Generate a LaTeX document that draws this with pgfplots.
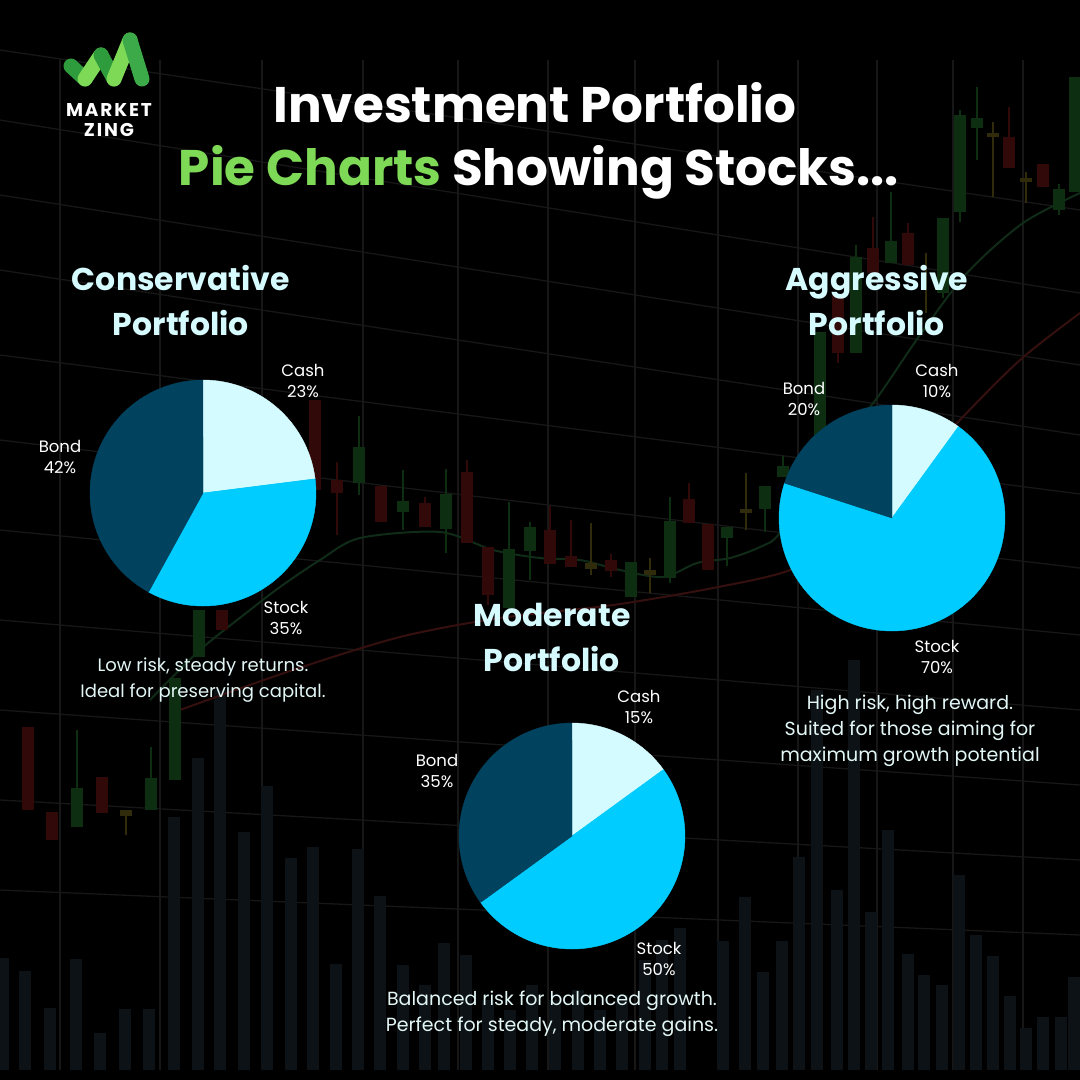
\documentclass[border=0pt]{standalone}
\usepackage{fontspec}
\setmainfont{Poppins}
\usepackage{pgfplots}
\pgfplotsset{compat=1.18}
\definecolor{cashc}{HTML}{D4FBFF}
\definecolor{stockc}{HTML}{00CCFF}
\definecolor{bondc}{HTML}{01425F}
\definecolor{ttl}{HTML}{D6FBFF}
\definecolor{grn}{HTML}{7ED957}
\definecolor{dgrn}{HTML}{2E9B3C}
\definecolor{mgrn}{HTML}{3CAA48}
\definecolor{gridc}{HTML}{171717}
\definecolor{volc}{HTML}{0C1215}
\definecolor{cg}{HTML}{0E2E12}
\definecolor{cr}{HTML}{310909}
\definecolor{cyl}{HTML}{302C0B}
\definecolor{mag}{HTML}{102C18}
\definecolor{mar}{HTML}{360F0F}
\definecolor{desc}{HTML}{E2F6F6}

% pie slice: cx, cy, cumulative start %, cumulative end %, colour
\newcommand{\pieslice}[5]{%
  \addplot[fill=#5, draw=#5, line width=0.4pt, domain={90-3.6*#3}:{90-3.6*#4}, samples=120, variable=\t]
    ({#1+113*cos(\t)},{#2-113*sin(\t)}) -- (axis cs:#1,#2) -- cycle;
}

\begin{document}
\begin{tikzpicture}
\useasboundingbox (0,0) rectangle (1080pt,1080pt);
\fill[black] (0,0) rectangle (1080pt,1080pt);
\begin{axis}[at={(0,0)}, anchor=south west,
  width=1080pt, height=1080pt, scale only axis,
  xmin=0, xmax=1080, ymin=0, ymax=1080, y dir=reverse,
  axis lines=none, xtick=\empty, ytick=\empty, clip=true,
  unbounded coords=jump]

% ---------- background grid ----------
\addplot[gridc, line width=1.3pt] coordinates {
 (60,60)(60,1070) (0,nan) (160,60)(160,1070) (0,nan) (262,60)(262,1070) (0,nan)
 (363,60)(363,1070) (0,nan) (458,60)(458,1070) (0,nan) (548,60)(548,1070) (0,nan)
 (635,60)(635,1070) (0,nan) (718,60)(718,1070) (0,nan) (798,60)(798,1070) (0,nan)
 (877,60)(877,1070) (0,nan) (953,60)(953,1070) (0,nan) (1023,60)(1023,1070)};
\addplot[gridc, line width=1.3pt] coordinates {
 (0,50)(1080,210) (0,nan) (0,120)(1080,293) (0,nan) (0,195)(1080,365) (0,nan)
 (0,270)(1080,435) (0,nan) (0,355)(1080,494) (0,nan) (0,440)(1080,568) (0,nan)
 (0,530)(1080,635) (0,nan) (0,620)(1080,710) (0,nan) (0,710)(1080,785) (0,nan)
 (0,800)(1080,860) (0,nan) (0,890)(1080,935)};

% ---------- volume bars ----------
\addplot[volc, line width=12pt] coordinates {
 (3,1070)(3,958) (0,nan) (25,1070)(25,971) (0,nan) (50,1070)(50,1008) (0,nan)
 (76,1070)(76,959) (0,nan) (100,1070)(100,1033) (0,nan) (125,1070)(125,1009) (0,nan)
 (149,1070)(149,1009) (0,nan) (174,1070)(174,817) (0,nan) (198,1070)(198,758) (0,nan)
 (220,1070)(220,690) (0,nan) (244,1070)(244,832) (0,nan) (267,1070)(267,786) (0,nan)
 (291,1070)(291,858) (0,nan) (313,1070)(313,847) (0,nan) (336,1070)(336,964) (0,nan)
 (358,1070)(358,849) (0,nan) (380,1070)(380,896) (0,nan) (403,1070)(403,965) (0,nan)
 (425,1070)(425,985) (0,nan) (444,1070)(444,943) (0,nan) (466,1070)(466,955) (0,nan)
 (488,1070)(488,1000) (0,nan) (510,1070)(510,1010) (0,nan) (532,1070)(532,985) (0,nan)
 (555,1070)(555,1000) (0,nan) (578,1070)(578,990) (0,nan) (600,1070)(600,1010) (0,nan)
 (622,1070)(622,995) (0,nan) (645,1070)(645,960) (0,nan) (662,1070)(662,940) (0,nan)
 (680,1070)(680,928) (0,nan) (723,1070)(723,941) (0,nan) (745,1070)(745,897) (0,nan)
 (763,1070)(763,972) (0,nan) (782,1070)(782,941) (0,nan) (799,1070)(799,857) (0,nan)
 (817,1070)(817,690) (0,nan) (837,1070)(837,890) (0,nan) (854,1070)(854,660) (0,nan)
 (871,1070)(871,912) (0,nan) (888,1070)(888,830) (0,nan) (908,1070)(908,954) (0,nan)
 (924,1070)(924,975) (0,nan) (942,1070)(942,985) (0,nan) (959,1070)(959,875) (0,nan)
 (976,1070)(976,935) (0,nan) (993,1070)(993,956) (0,nan) (1010,1070)(1010,996) (0,nan)
 (1026,1070)(1026,1028) (0,nan) (1043,1070)(1043,1017) (0,nan) (1061,1070)(1061,1017) (0,nan)
 (1074,1070)(1074,977)};

% ---------- moving averages ----------
\addplot[mag, line width=2pt, smooth] coordinates {
 (150,700)(200,650)(250,610)(280,587)(320,560)(360,538)(440,532)(493,550)(540,558)
 (580,560)(620,570)(663,577)(697,563)(730,558)(760,547)(780,533)(820,470)(850,430)
 (877,398)(920,335)(967,273)(1023,223)(1080,193)};
\addplot[mar, line width=2pt, smooth] coordinates {
 (180,710)(293,670)(400,637)(500,618)(613,605)(713,588)(790,570)(850,535)(900,485)
 (957,423)(1020,360)(1080,313)};

% ---------- candlesticks: wicks ----------
\addplot[cg, line width=2pt] coordinates {
 (359,416)(359,495) (0,nan) (403,470)(403,530) (0,nan) (446,469)(446,553) (0,nan)
 (509,502)(509,610) (0,nan) (530,522)(530,580) (0,nan) (670,497)(670,583) (0,nan)
 (727,527)(727,566) (0,nan) (765,486)(765,532) (0,nan) (783,456)(783,477) (0,nan)
 (856,245)(856,353) (0,nan) (891,192)(891,263) (0,nan) (943,218)(943,298) (0,nan)
 (960,110)(960,222) (0,nan) (977,87)(977,160) (0,nan) (1059,184)(1059,215) (0,nan)
 (77,730)(77,827) (0,nan) (151,747)(151,810)};
\addplot[cr, line width=2pt] coordinates {
 (337,462)(337,535) (0,nan) (425,497)(425,527) (0,nan) (467,460)(467,543) (0,nan)
 (488,547)(488,605) (0,nan) (550,506)(550,564) (0,nan) (571,520)(571,567) (0,nan)
 (611,554)(611,577) (0,nan) (689,483)(689,523) (0,nan) (838,295)(838,363) (0,nan)
 (873,217)(873,273) (0,nan) (908,223)(908,265) (0,nan) (1009,107)(1009,168)};
\addplot[cyl, line width=2pt] coordinates {
 (591,523)(591,575) (0,nan) (650,558)(650,593) (0,nan) (746,473)(746,530) (0,nan)
 (926,253)(926,313) (0,nan) (993,122)(993,197) (0,nan) (1026,172)(1026,203) (0,nan)
 (126,810)(126,835)};
% ---------- candlesticks: bodies ----------
\addplot[cg, line width=12pt] coordinates {
 (359,447)(359,483) (0,nan) (403,501)(403,512) (0,nan) (446,494)(446,529) (0,nan)
 (509,549)(509,608) (0,nan) (530,527)(530,551) (0,nan) (631,562)(631,597) (0,nan)
 (670,521)(670,578) (0,nan) (727,527)(727,538) (0,nan) (765,486)(765,509) (0,nan)
 (783,466)(783,477) (0,nan) (820,332)(820,440) (0,nan) (856,257)(856,353) (0,nan)
 (891,241)(891,263) (0,nan) (943,218)(943,293) (0,nan) (960,115)(960,212) (0,nan)
 (977,118)(977,128) (0,nan) (1059,189)(1059,210) (0,nan) (1075,77)(1075,192) (0,nan)
 (77,788)(77,827) (0,nan) (151,778)(151,810) (0,nan) (175,678)(175,780) (0,nan)
 (199,610)(199,657)};
\addplot[cr, line width=12pt] coordinates {
 (315,400)(315,490) (0,nan) (337,480)(337,493) (0,nan) (381,486)(381,522) (0,nan)
 (425,503)(425,527) (0,nan) (467,472)(467,543) (0,nan) (488,547)(488,595) (0,nan)
 (550,530)(550,564) (0,nan) (571,556)(571,567) (0,nan) (611,560)(611,571) (0,nan)
 (689,499)(689,523) (0,nan) (708,524)(708,570) (0,nan) (838,295)(838,353) (0,nan)
 (873,248)(873,273) (0,nan) (908,233)(908,265) (0,nan) (1009,137)(1009,168) (0,nan)
 (1043,164)(1043,187) (0,nan) (28,727)(28,810) (0,nan) (52,812)(52,840) (0,nan)
 (102,777)(102,813) (0,nan) (222,610)(222,630)};
\addplot[cyl, line width=12pt] coordinates {
 (591,563)(591,569) (0,nan) (650,570)(650,575) (0,nan) (746,509)(746,513) (0,nan)
 (993,133)(993,137) (0,nan) (1026,178)(1026,182) (0,nan) (126,810)(126,816)};

% ---------- logo ----------
\addplot[dgrn, line width=15pt, line cap=round] coordinates {(71,66)(85,79)};
\addplot[grn, line width=15pt, line cap=round] coordinates {(85,79)(101,55)};
\addplot[dgrn, line width=15pt, line cap=round] coordinates {(101,55)(114,79)};
\addplot[grn, line width=15pt, line cap=round] coordinates {(114,79)(130,40)};
\addplot[mgrn, line width=15pt, line cap=round] coordinates {(130,40)(142,79)};

% ---------- pies (cumulative percentages) ----------
% Conservative: Cash 23, Stock 35, Bond 42
\pieslice{203}{493}{0}{23}{cashc}
\pieslice{203}{493}{23}{58}{stockc}
\pieslice{203}{493}{58}{100}{bondc}
% Aggressive: Cash 10, Stock 70, Bond 20
\pieslice{892}{518}{0}{10}{cashc}
\pieslice{892}{518}{10}{80}{stockc}
\pieslice{892}{518}{80}{100}{bondc}
% Moderate: Cash 15, Stock 50, Bond 35
\pieslice{572}{836}{0}{15}{cashc}
\pieslice{572}{836}{15}{65}{stockc}
\pieslice{572}{836}{65}{100}{bondc}

% ---------- texts ----------
\node[text=white, align=center, inner sep=0pt, font=\fontsize{18.5}{20}\bfseries\selectfont\addfontfeature{LetterSpace=10}] at (axis cs:109,120) {MARKET\\ZING};

\node[text=white, font=\fontsize{50}{55}\bfseries\selectfont] at (axis cs:535,103) {Investment Portfolio};
\node[text=white, font=\fontsize{50}{55}\bfseries\selectfont] at (axis cs:539,172) {\textcolor{grn}{Pie Charts} Showing Stocks...};

\node[text=ttl, align=center, font=\fontsize{31.5}{45}\bfseries\selectfont] at (axis cs:181,301) {Conservative\\Portfolio};
\node[text=ttl, align=center, font=\fontsize{31.5}{45}\bfseries\selectfont] at (axis cs:877,301) {Aggressive\\Portfolio};
\node[text=ttl, align=center, font=\fontsize{31.5}{45}\bfseries\selectfont] at (axis cs:552,637) {Moderate\\Portfolio};

\tikzset{lbl/.style={text=white, align=center, font=\fontsize{16.5}{21}\selectfont}}
\node[lbl] at (axis cs:303,381) {Cash\\23\%};
\node[lbl] at (axis cs:60,457) {Bond\\42\%};
\node[lbl] at (axis cs:286,618) {Stock\\35\%};
\node[lbl] at (axis cs:937,381) {Cash\\10\%};
\node[lbl] at (axis cs:804,399) {Bond\\20\%};
\node[lbl] at (axis cs:937,657) {Stock\\70\%};
\node[lbl] at (axis cs:639,707) {Cash\\15\%};
\node[lbl] at (axis cs:437,771) {Bond\\35\%};
\node[lbl] at (axis cs:659,959) {Stock\\50\%};

\tikzset{dsc/.style={text=desc, align=center, font=\fontsize{18}{26}\selectfont}}
\node[dsc] at (axis cs:203,680) {Low risk, steady returns.\\Ideal for preserving capital.};
\node[dsc, font=\fontsize{19}{26}\selectfont] at (axis cs:910,731) {High risk, high reward.\\Suited for those aiming for\\maximum growth potential};
\node[dsc, font=\fontsize{19}{26}\selectfont] at (axis cs:552,1014) {Balanced risk for balanced growth.\\Perfect for steady, moderate gains.};
\end{axis}
\end{tikzpicture}
\end{document}
